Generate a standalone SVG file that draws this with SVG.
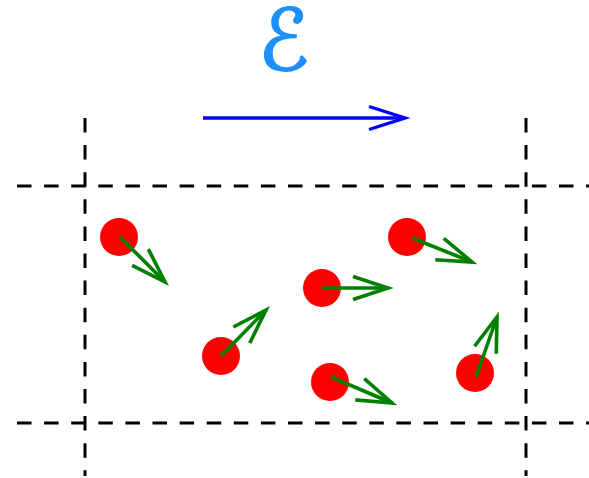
<svg xmlns="http://www.w3.org/2000/svg" width="589" height="478" viewBox="0 0 589 478">
<style>
.grid{stroke:#000;stroke-width:3;stroke-dasharray:14.5 12.6;fill:none}
.p{fill:#ff0000}
.v{stroke:#008000;stroke-width:3.6;fill:none;marker-end:url(#hg)}
.e{stroke:#0000ff;stroke-width:3.4;fill:none;marker-end:url(#hb)}
.lbl{font-family:"DejaVu Sans",sans-serif;font-style:italic;font-size:85px;fill:#1e8fff;stroke:#1e8fff;stroke-width:1.6}
</style>
<defs>
<marker id="hg" markerUnits="userSpaceOnUse" viewBox="-40 -15 44 30" markerWidth="44" markerHeight="30" refX="0" refY="0" orient="auto" overflow="visible">
<path d="M-35,-11.5 L0,0 L-35,11.5" fill="none" stroke="#008000" stroke-width="3.6"/>
</marker>
<marker id="hb" markerUnits="userSpaceOnUse" viewBox="-40 -15 44 30" markerWidth="44" markerHeight="30" refX="0" refY="0" orient="auto" overflow="visible">
<path d="M-36,-11.5 L0,0 L-36,11.5" fill="none" stroke="#0000ff" stroke-width="3.4"/>
</marker>
</defs>
<g id="grid">
<line class="grid" x1="17" y1="186" x2="589" y2="186"/>
<line class="grid" x1="17" y1="423" x2="589" y2="423"/>
<line class="grid" x1="85" y1="118" x2="85" y2="476"/>
<line class="grid" x1="526" y1="118" x2="526" y2="476"/>
</g>
<g id="field">
<text class="lbl" x="258" y="70">ℰ</text>
<line class="e" x1="203" y1="118" x2="405" y2="118"/>
</g>
<g id="particle1"><circle class="p" cx="119" cy="237" r="19"/></g>
<g id="particle2"><circle class="p" cx="221" cy="356" r="19"/></g>
<g id="particle3"><circle class="p" cx="407" cy="237" r="19"/></g>
<g id="particle4"><circle class="p" cx="322" cy="288" r="19"/></g>
<g id="particle5"><circle class="p" cx="330" cy="382" r="19"/></g>
<g id="particle6"><circle class="p" cx="475" cy="373" r="19"/></g>
<g id="connectors">
<line class="v" x1="120" y1="237" x2="165" y2="282"/>
<line class="v" x1="221" y1="356" x2="266" y2="310"/>
<line class="v" x1="412" y1="238" x2="472" y2="262"/>
<line class="v" x1="322" y1="288" x2="388" y2="288"/>
<line class="v" x1="331" y1="377" x2="392" y2="403"/>
<line class="v" x1="476" y1="377" x2="497" y2="317"/>
</g>
</svg>
